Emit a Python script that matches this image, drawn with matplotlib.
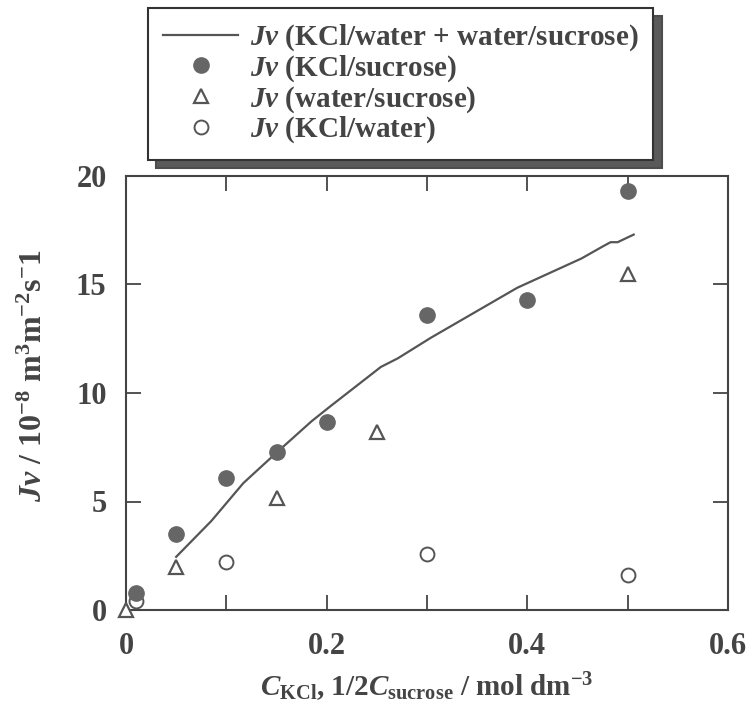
import numpy as np
import matplotlib
matplotlib.use("Agg")
import matplotlib.pyplot as plt

# volume flux data
conc_kcl_suc = [0.01, 0.05, 0.10, 0.15, 0.20, 0.30, 0.40, 0.50]
jv_kcl_suc = [0.8, 3.5, 6.1, 7.3, 8.65, 13.6, 14.3, 19.3]

conc_water_suc = [0.0, 0.05, 0.15, 0.25, 0.50]
jv_water_suc = [0.0, 2.0, 5.15, 8.2, 15.5]

conc_kcl_water = [0.01, 0.10, 0.30, 0.50]
jv_kcl_water = [0.4, 2.2, 2.6, 1.6]

# sum curve (KCl/water + water/sucrose)
conc_sum = [0.05, 0.085, 0.117, 0.15, 0.185, 0.204, 0.254, 0.271, 0.304,
            0.347, 0.39, 0.454, 0.475, 0.483, 0.49, 0.506]
jv_sum = [2.45, 4.1, 5.85, 7.25, 8.7, 9.4, 11.2, 11.6, 12.55,
          13.7, 14.85, 16.2, 16.75, 16.95, 16.95, 17.3]

x_ticks = [0.0, 0.1, 0.2, 0.3, 0.4, 0.5, 0.6]
x_labels = ["0", "", "0.2", "", "0.4", "", "0.6"]
y_ticks = [0, 5, 10, 15, 20]

ink = "#444444"

plt.rcParams.update({
    "font.family": "Liberation Serif",
    "font.weight": "bold",
    "axes.labelweight": "bold",
    "mathtext.fontset": "custom",
    "mathtext.rm": "Liberation Serif:bold",
    "mathtext.bf": "Liberation Serif:bold",
    "mathtext.it": "Liberation Serif:bold:italic",
    "text.color": ink,
    "axes.edgecolor": ink,
    "axes.labelcolor": ink,
    "xtick.color": ink,
    "ytick.color": ink,
})

fig = plt.figure(figsize=(7.55, 7.24), dpi=100)
ax = fig.add_axes([126 / 755, 1 - 610 / 724, 602 / 755, 434 / 724])

ax.plot(conc_sum, jv_sum, color="#555555", lw=1.6, zorder=2,
        label="$Jv$ (KCl/water + water/sucrose)")
ax.plot(conc_kcl_water, jv_kcl_water, ls="none", marker="o", ms=10,
        mfc="white", mec="#555555", mew=1.4, clip_on=False, zorder=3,
        label="$Jv$ (KCl/water)")
ax.plot(conc_water_suc, jv_water_suc, ls="none", marker="^", ms=10,
        mfc="white", mec="#555555", mew=1.6, clip_on=False, zorder=4,
        label="$Jv$ (water/sucrose)")
ax.plot(conc_kcl_suc, jv_kcl_suc, ls="none", marker="o", ms=11,
        mfc="#666666", mec="#666666", clip_on=False, zorder=5,
        label="$Jv$ (KCl/sucrose)")

ax.set_xlim(0, 0.6)
ax.set_ylim(0, 20)
ax.set_xticks(x_ticks)
ax.set_xticklabels(x_labels)
ax.set_yticks(y_ticks)
ax.tick_params(direction="in", length=11, width=1.3, labelsize=22,
               top=True, right=True)
ax.tick_params(axis="x", pad=16)
ax.tick_params(axis="y", pad=14)
for sp in ax.spines.values():
    sp.set_linewidth(1.5)

ax.set_xlabel(r"$C_{\mathrm{KCl}}$, 1/2$C_{\mathrm{sucrose}}$ / mol dm$^{-3}$",
              fontsize=21)
ax.xaxis.set_label_coords(0.5, -0.14)
ax.set_ylabel("$Jv$ / 10$^{-8}$ m$^{3}$m$^{-2}$s$^{-}$1", fontsize=23)
ax.yaxis.set_label_coords(-0.128, 0.54)

handles, labels = ax.get_legend_handles_labels()
order = [0, 3, 2, 1]
leg = fig.legend([handles[i] for i in order], [labels[i] for i in order],
                 loc="upper left", bbox_to_anchor=(148 / 755, 1 - 8 / 724),
                 fontsize=21, frameon=True, fancybox=False,
                 handlelength=2.6, handletextpad=0.4, labelspacing=0.0,
                 borderpad=0.5, borderaxespad=0,
                 shadow={"ox": 6, "oy": -6, "facecolor": "#5a5a5a", "alpha": 1})
leg.get_frame().set_edgecolor("#333333")
leg.get_frame().set_linewidth(1.5)

fig.savefig("out.png", dpi=100)
